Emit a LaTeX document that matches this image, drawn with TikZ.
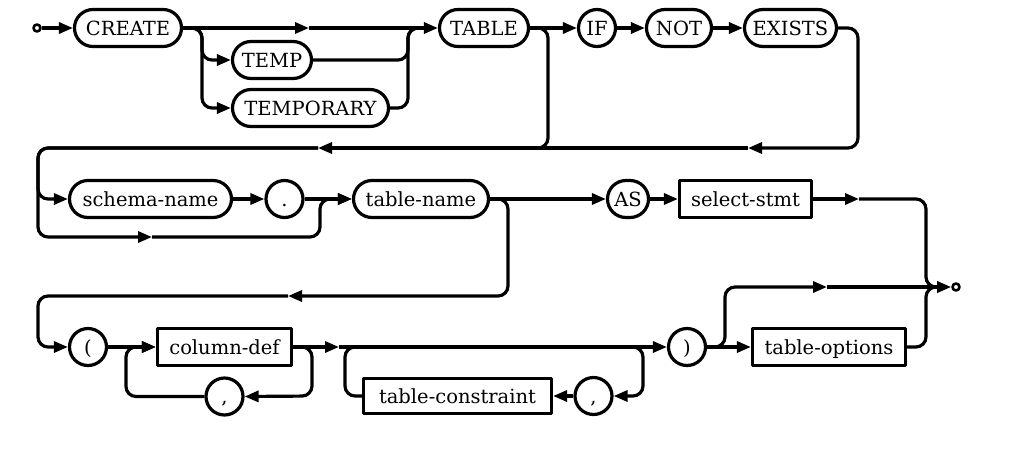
\documentclass[tikz,border=0pt]{standalone}
\usepackage{fontspec}
\setmainfont{DejaVu Serif}
\usetikzlibrary{arrows.meta}
\begin{document}
\begin{tikzpicture}[x=1pt,y=-1pt,
  line width=3.2pt, line join=round,
  arr/.style={-{Triangle[length=14pt,width=11pt]}},
  rr/.style={rounded corners=10pt},
  base/.style={draw, line width=3.2pt, inner sep=0pt, text=black,
    font=\fontsize{19.5}{21}\selectfont, text height=14pt, text depth=0pt,
    minimum height=37pt},
  term/.style={base, rectangle, rounded corners=18.5pt},
  cterm/.style={base, circle, minimum size=37pt},
  nterm/.style={base, rectangle},
  dotc/.style={draw, circle, line width=2.6pt, minimum size=7pt, inner sep=0pt}]
\useasboundingbox (0,0) rectangle (1012,448);
% ---- nodes
\node[dotc] (start) at (37,28) {};
\node[term, minimum width=107pt] (create) at (128,28) {CREATE};
\node[term, minimum width=79pt] (temp) at (272,60) {TEMP};
\node[term, minimum width=156pt] (temporary) at (310.5,108) {TEMPORARY};
\node[term, minimum width=89pt] (table) at (484,28) {TABLE};
\node[cterm] (if) at (597,28) {IF};
\node[term, minimum width=65pt] (not) at (679,28) {NOT};
\node[term, minimum width=92pt] (exists) at (790.5,28) {EXISTS};
\node[term, minimum width=162pt] (schema) at (150.5,199) {schema-name};
\node[cterm] (dot) at (284.5,199) {.};
\node[term, minimum width=135pt] (tname) at (421,199) {table-name};
\node[term, minimum width=41pt] (as) at (628,199) {AS};
\node[nterm, minimum width=132pt] (select) at (745.5,199) {select-stmt};
\node[cterm] (lpar) at (88,347) {(};
\node[nterm, minimum width=134pt] (coldef) at (224.5,347) {column-def};
\node[cterm] (comma1) at (224.5,396.5) {,};
\node[nterm, minimum width=188pt, minimum height=35pt] (tcons) at (457.5,396) {table-constraint};
\node[cterm] (comma2) at (593.5,396) {,};
\node[cterm] (rpar) at (687,347) {)};
\node[nterm, minimum width=153pt] (topts) at (829,347) {table-options};
\node[dotc] (end) at (956,287) {};
% ---- coordinates
\coordinate (a1) at (309,28);
\coordinate (s1) at (202,28);
\coordinate (j1) at (408,28);
\coordinate (j1e) at (420,28);
\coordinate (r1r) at (858,148);
\coordinate (ra1) at (748,148);
\coordinate (ra2) at (318,148);
\coordinate (r1l) at (38,148);
\coordinate (tb) at (548,148);
\coordinate (tbe) at (530,148);
\coordinate (ba) at (152,237);
\coordinate (bj) at (320,199);
\coordinate (tr) at (508,296);
\coordinate (ra3) at (288,296);
\coordinate (r2l) at (38,296);
\coordinate (sa) at (859,199);
\coordinate (ej) at (926,287);
\coordinate (eje) at (940,287);
\coordinate (cr) at (312,396);
\coordinate (cl) at (126,347);
\coordinate (ma) at (339,347);
\coordinate (l2a) at (613,347);
\coordinate (l2r) at (643,396);
\coordinate (l2l) at (345,347);
\coordinate (l2b) at (373,347);
\coordinate (ob) at (725,287);
\coordinate (oa) at (827,287);
% ---- row 1
\draw[arr] (start.east) -- (create.west);
\draw[arr] (create.east) -- (a1);
\draw[arr] (a1) -- (table.west);
\draw[rr,arr] (create.east) -- (s1) |- (temp.west);
\draw[rr,arr] (create.east) -- (s1) |- (temporary.west);
\draw[rr] (temp.east) -| (j1) -- (j1e);
\draw[rr] (temporary.east) -| (j1) -- (j1e);
\draw[arr] (table.east) -- (if.west);
\draw[arr] (if.east) -- (not.west);
\draw[arr] (not.east) -- (exists.west);
\draw[rr] (table.east) -| (tb) -- (tbe);
\draw[rr,arr] (exists.east) -| (r1r) -- (ra1);
\draw[arr] (ra1) -- (ra2);
% ---- row 2
\draw[rr,arr] (ra2) -- (r1l) |- (schema.west);
\draw[rr,arr] (ra2) -- (r1l) |- (ba);
\draw[rr,arr] (ba) -| (bj) -- (tname.west);
\draw[arr] (schema.east) -- (dot.west);
\draw[arr] (dot.east) -- (tname.west);
\draw[arr] (tname.east) -- (as.west);
\draw[arr] (as.east) -- (select.west);
\draw[arr] (select.east) -- (sa);
\draw[rr] (sa) -| (ej) -- (eje);
\draw[rr,arr] (tname.east) -| (tr) -- (ra3);
% ---- row 3
\draw[rr,arr] (ra3) -- (r2l) |- (lpar.west);
\draw[arr] (lpar.east) -- (coldef.west);
\draw[rr,arr] (coldef.east) -| (cr) -- (comma1.east);
\draw[rr,arr] (comma1.west) -| (cl) -- (coldef.west);
\draw[arr] (coldef.east) -- (ma);
\draw[arr] (ma) -- (rpar.west);
\draw[rr,arr] (l2a) -| (l2r) -- (comma2.east);
\draw[arr] (comma2.west) -- (tcons.east);
\draw[rr] (tcons.west) -| (l2l) -- (l2b);
\draw[arr] (rpar.east) -- (topts.west);
\draw[rr,arr] (rpar.east) -| (ob) -- (oa);
\draw[arr] (oa) -- (end.west);
\draw[rr] (topts.east) -| (ej) -- (eje);
\end{tikzpicture}
\end{document}
